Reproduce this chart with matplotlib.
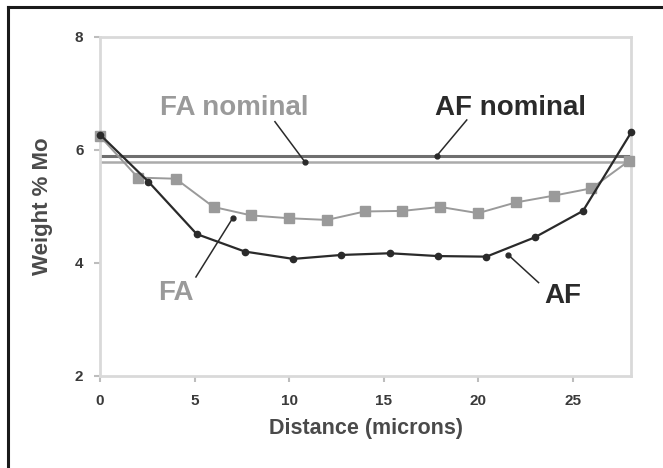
import matplotlib.pyplot as plt
from matplotlib.lines import Line2D

plt.rcParams["font.family"] = ["Liberation Sans", "DejaVu Sans"]

# Mo concentration profiles across the weld interface
af_distance = [0.0, 2.55, 5.11, 7.66, 10.22, 12.77, 15.33, 17.88, 20.44, 22.99, 25.55, 28.1]
af_weight = [6.27, 5.44, 4.51, 4.20, 4.07, 4.14, 4.17, 4.12, 4.11, 4.45, 4.92, 6.31]

fa_distance = [0, 2, 4, 6, 8, 10, 12, 14, 16, 18, 20, 22, 24, 26, 28]
fa_weight = [6.24, 5.51, 5.49, 4.99, 4.84, 4.79, 4.76, 4.91, 4.92, 4.99, 4.88, 5.07, 5.19, 5.32, 5.81]

af_nominal = 5.89
fa_nominal = 5.79

x_ticks = [0, 5, 10, 15, 20, 25]
y_ticks = [2, 4, 6, 8]

dark = "#2a2a2a"
grey = "#9a9a9a"
frame = "#d9d9d9"

fig = plt.figure(figsize=(6.63, 4.68), dpi=100)
ax = fig.add_axes([0.151, 0.197, 0.801, 0.724])

ax.axhline(af_nominal, color="#6f6f6f", lw=2.2, zorder=2)
ax.axhline(fa_nominal, color="#ababab", lw=1.8, zorder=2)

ax.plot(fa_distance, fa_weight, color=grey, lw=1.4, marker="s", ms=6.5,
        mfc=grey, mec=grey, clip_on=False, zorder=3)
ax.plot(af_distance, af_weight, color=dark, lw=1.6, marker="o", ms=4.5,
        mfc=dark, mec=dark, clip_on=False, zorder=4)

ax.set_xlim(0, 28.1)
ax.set_ylim(2, 8)
ax.set_xticks(x_ticks)
ax.set_yticks(y_ticks)

for side in ["top", "right", "left", "bottom"]:
    ax.spines[side].set_color(frame)
    ax.spines[side].set_linewidth(2)
ax.tick_params(colors="#bdbdbd", length=4, width=1.5, labelcolor="#3a3a3a",
               labelsize=11)
for lbl in ax.get_xticklabels() + ax.get_yticklabels():
    lbl.set_fontweight("bold")
ax.tick_params(axis="x", pad=9)
ax.tick_params(axis="y", pad=8)

ax.set_xlabel("Distance (microns)", fontsize=15.5, fontweight="bold",
              color="#4a4a4a", labelpad=7)
ax.set_ylabel("Weight % Mo", fontsize=16, fontweight="bold", color="#4a4a4a",
              labelpad=16)


def callout(text, color, text_xy, start, end):
    ax.text(*text_xy, text, fontsize=20, fontweight="bold", color=color,
            ha="left", va="baseline", zorder=5)
    ax.add_line(Line2D([start[0], end[0]], [start[1], end[1]], color=dark,
                       lw=1.1, zorder=5))
    ax.plot(*end, "o", color=dark, ms=3.5, zorder=6)


callout("FA nominal", grey, (3.17, 6.62), (9.25, 6.50), (10.83, fa_nominal))
callout("AF nominal", dark, (17.7, 6.62), (19.4, 6.53), (17.8, af_nominal))
callout("FA", grey, (3.07, 3.35), (5.07, 3.75), (7.03, 4.80))
callout("AF", dark, (23.5, 3.29), (23.2, 3.65), (21.6, 4.14))

# black frame on the top and left edges of the figure
fig.add_artist(Line2D([0.012, 1.0], [0.985, 0.985], transform=fig.transFigure,
                      color="#1a1a1a", lw=2.2))
fig.add_artist(Line2D([0.012, 0.012], [0.0, 0.985], transform=fig.transFigure,
                      color="#1a1a1a", lw=2.2))

fig.savefig("out.png", dpi=100)
